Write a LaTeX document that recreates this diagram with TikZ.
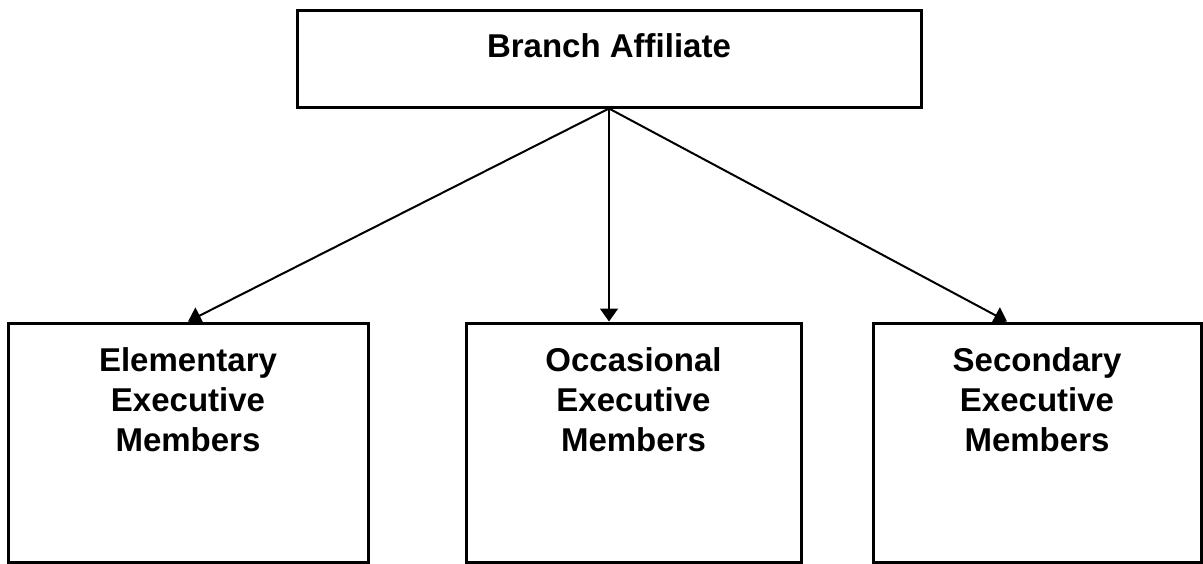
\documentclass[tikz,border=0pt]{standalone}
\usepackage{fontspec}
\setmainfont{Liberation Sans}
\usetikzlibrary{positioning,arrows.meta}

\begin{document}
\begin{tikzpicture}[x=0.5pt,y=-0.5pt]
\path[use as bounding box] (0,0) rectangle (1203,563);

\tikzset{box/.style={draw,line width=1.5pt,inner sep=0pt},
         boxtext/.style={align=center,inner sep=0pt,
                         font=\bfseries\fontsize{16.5}{20}\selectfont},
         link/.style={line width=1pt,-{Triangle[length=6.5pt,width=9pt]}}}

\node[box,minimum width=312pt,minimum height=48.5pt] (top) at (609,58.5) {};
\node[boxtext,anchor=base] (toptext) at (609,57) {Branch Affiliate};

\node[box,minimum width=180pt,minimum height=119.5pt] (elem) at (188,442.5) {};
\node[box,minimum width=167.5pt,minimum height=119.5pt] (occ) at (633.5,442.5) {};
\node[box,minimum width=164pt,minimum height=119.5pt] (sec) at (1037,442.5) {};

\node[boxtext,below=13pt of elem.north] (elemtext) {Elementary\\Executive\\Members};
\node[boxtext,below=13pt of occ.north] (occtext) {Occasional\\Executive\\Members};
\node[boxtext,below=13pt of sec.north] (sectext) {Secondary\\Executive\\Members};

% arrow tips
\coordinate (occtip) at (top.south |- occ.north);
\coordinate[xshift=-15pt] (sectip) at (sec.north);

\draw[link] (top.south) -- (elem.north);
\draw[link] (top.south) -- (occtip);
\draw[link] (top.south) -- (sectip);
\end{tikzpicture}
\end{document}
